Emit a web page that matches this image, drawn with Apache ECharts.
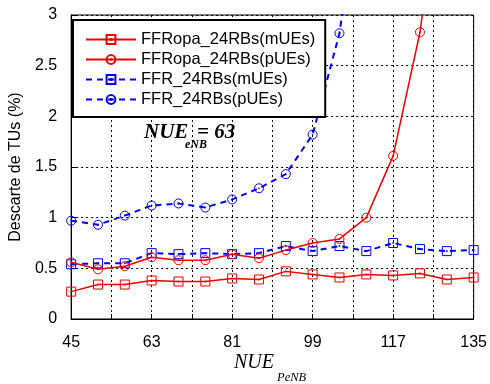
<!DOCTYPE html>
<html>
<head>
<meta charset="utf-8">
<script src="https://cdn.jsdelivr.net/npm/echarts@6/dist/echarts.min.js"></script>
<style>html,body{margin:0;padding:0;background:#fff}#c{width:490px;height:384px}</style>
</head>
<body>
<div id="c"></div>
<script>
var xValues = [45, 51, 57, 63, 69, 75, 81, 87, 93, 99, 105, 111, 117, 123, 129, 135];
var xTickLabels = [45, 63, 81, 99, 117, 135];
var ffropaM = [0.27, 0.34, 0.34, 0.38, 0.37, 0.37, 0.40, 0.39, 0.47, 0.44, 0.41, 0.44, 0.43, 0.45, 0.39, 0.41];
var ffropaP = [0.56, 0.49, 0.52, 0.61, 0.58, 0.58, 0.64, 0.60, 0.68, 0.75, 0.79, 1.00, 1.61, 2.83, 4.8];
var ffrM = [0.54, 0.55, 0.55, 0.65, 0.64, 0.65, 0.64, 0.65, 0.72, 0.67, 0.72, 0.67, 0.75, 0.69, 0.67, 0.68];
var ffrP = [0.97, 0.93, 1.02, 1.12, 1.14, 1.10, 1.18, 1.29, 1.43, 1.82, 2.82, 4.7];
var seriesNames = ['FFRopa_24RBs(mUEs)', 'FFRopa_24RBs(pUEs)', 'FFR_24RBs(mUEs)', 'FFR_24RBs(pUEs)'];

var RED = '#ee0000', BLUE = '#0000ff';
var SQ = 'path://M0,0H10V10H0Z M4.5,4.5H5.5V5.5H4.5Z';
var CI = 'path://M0,5A5,5,0,1,1,10,5A5,5,0,1,1,0,5Z M4.5,5A0.5,0.5,0,1,1,5.5,5A0.5,0.5,0,1,1,4.5,5Z';

function pairs(ys) { return ys.map(function (y, i) { return [xValues[i], y]; }); }
function mk(name, ys, color, sym, dashed) {
  return {
    name: name, type: 'line', data: pairs(ys), clip: true,
    symbol: sym, symbolSize: 9, showSymbol: true,
    itemStyle: { color: 'rgba(0,0,0,0)', borderColor: color, borderWidth: 1 },
    lineStyle: { color: color, width: dashed ? 2 : 1.5, type: dashed ? [6, 5] : 'solid' },
    emphasis: { disabled: true }, animation: false, z: dashed ? 3 : 4
  };
}

var chart = echarts.init(document.getElementById('c'), null, { renderer: 'canvas' });
var SANS = '"Liberation Sans", Arial, sans-serif';
var SERIF = '"Liberation Serif", "Times New Roman", serif';
chart.setOption({
  animation: false,
  backgroundColor: '#fff',
  grid: { left: 70, right: 14, top: 15, bottom: 65, show: true, borderColor: '#000', borderWidth: 1, backgroundColor: 'transparent' },
  legend: {
    orient: 'vertical', left: 73, top: 20,
    padding: [11, 10, 9, 12], itemGap: 3, itemWidth: 50, itemHeight: 11,
    borderColor: '#000', borderWidth: 2, backgroundColor: '#fff',
    textStyle: { fontFamily: SANS, fontSize: 16.5, color: '#000' },
    data: seriesNames
  },
  xAxis: {
    type: 'value', min: 45, max: 135, interval: 9,
    axisLine: { lineStyle: { color: '#000', width: 1 } },
    axisTick: { inside: true, length: 5, lineStyle: { color: '#000' } },
    axisLabel: {
      fontFamily: SANS, fontSize: 16, color: '#000', margin: 16,
      formatter: function (v) { return xTickLabels.indexOf(v) >= 0 ? String(v) : ''; }
    },
    splitLine: { show: true, lineStyle: { color: '#000', type: [2, 3], width: 1 } }
  },
  yAxis: {
    type: 'value', min: 0, max: 3, interval: 0.5,
    name: 'Descarte de TUs (%)', nameLocation: 'middle', nameGap: 41,
    nameTextStyle: { fontFamily: SANS, fontSize: 16, color: '#000' },
    axisLine: { show: true, lineStyle: { color: '#000', width: 1 } },
    axisTick: { show: true, inside: true, length: 5, lineStyle: { color: '#000' } },
    axisLabel: { fontFamily: SANS, fontSize: 16, color: '#000', margin: 14 },
    splitLine: { show: true, lineStyle: { color: '#000', type: [2, 3], width: 1 } }
  },
  series: [
    mk(seriesNames[0], ffropaM, RED, SQ, false),
    mk(seriesNames[1], ffropaP, RED, CI, false),
    mk(seriesNames[2], ffrM, BLUE, SQ, true),
    mk(seriesNames[3], ffrP, BLUE, CI, true)
  ],
  graphic: [
    { type: 'text', left: 144, top: 122, style: { text: 'NUE', font: 'italic bold 21px ' + SERIF, fill: '#000' } },
    { type: 'text', left: 185, top: 139, style: { text: 'eNB', font: 'italic bold 12px ' + SERIF, fill: '#000' } },
    { type: 'text', left: 197, top: 122, style: { text: '= 63', font: 'italic bold 21px ' + SERIF, fill: '#000' } },
    { type: 'text', left: 234, top: 353, style: { text: 'NUE', font: 'italic 20px ' + SERIF, fill: '#000' } },
    { type: 'text', left: 277, top: 371, style: { text: 'PeNB', font: 'italic 12.5px ' + SERIF, fill: '#000' } }
  ]
});
</script>
</body>
</html>
